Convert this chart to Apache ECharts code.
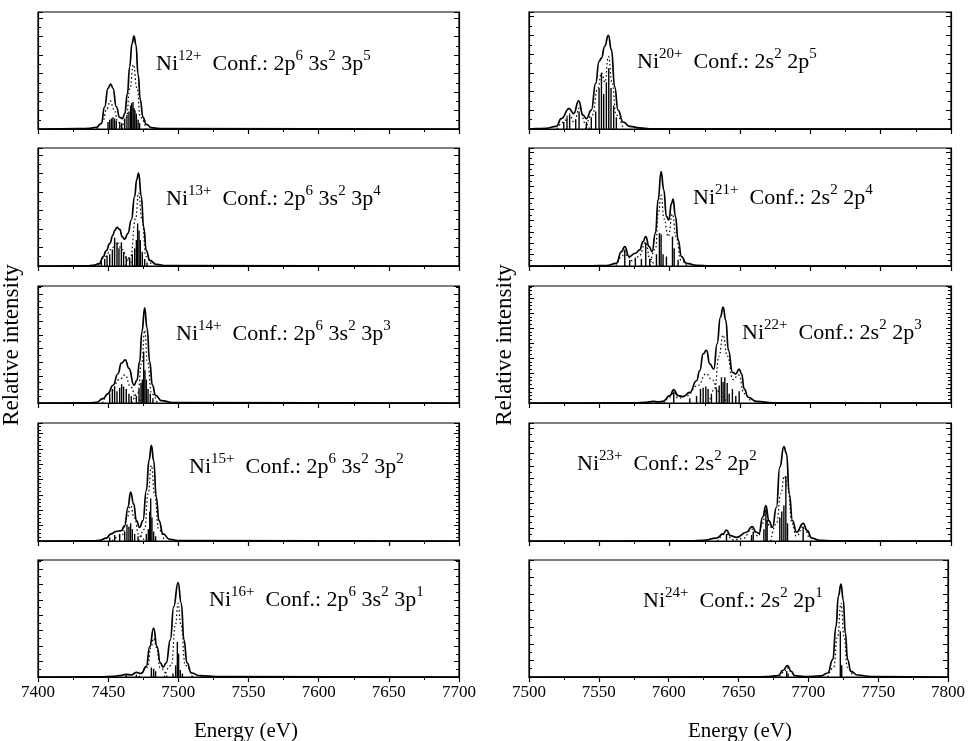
<!DOCTYPE html>
<html><head><meta charset="utf-8">
<script src="https://cdn.jsdelivr.net/npm/echarts@6/dist/echarts.min.js"></script>
<style>html,body{margin:0;padding:0;background:#fff}#c{width:968px;height:741px}</style>
</head><body><div id="c"></div>
<script>
// ---------- DATA ----------
const ions = ['12+','13+','14+','15+','16+','20+','21+','22+','23+','24+'];
const confs = ['2p^6 3s^2 3p^5','2p^6 3s^2 3p^4','2p^6 3s^2 3p^3','2p^6 3s^2 3p^2','2p^6 3s^2 3p^1',
               '2s^2 2p^5','2s^2 2p^4','2s^2 2p^3','2s^2 2p^2','2s^2 2p^1'];
const xTitle = 'Energy (eV)';
const yTitle = 'Relative intensity';
const leftRange = [7400, 7700];
const rightRange = [7500, 7800];

const env12 = [[7400,0],[7430,0.003],[7436.8,0.006],[7441.6,0.015],[7445.1,0.046],[7447.5,0.19],[7449.9,0.35],[7451.8,0.383],[7453.4,0.35],[7455.8,0.19],[7458.2,0.10],[7460.1,0.089],[7461.8,0.13],[7463.7,0.30],[7465.3,0.53],[7467.0,0.73],[7468.4,0.794],[7469.8,0.72],[7471.3,0.47],[7472.9,0.25],[7474.8,0.10],[7477.2,0.04],[7480.8,0.011],[7486.7,0.003],[7700,0]];
const env13 = [[7400,0],[7435,0.002],[7439.2,0.005],[7443.9,0.02],[7446.3,0.077],[7448.7,0.13],[7451.1,0.19],[7453.4,0.26],[7454.6,0.30],[7456.3,0.327],[7458.2,0.31],[7460.1,0.247],[7461.8,0.227],[7464.1,0.276],[7466.5,0.39],[7468.9,0.59],[7470.3,0.73],[7471.7,0.787],[7473.6,0.59],[7475.3,0.33],[7477.2,0.13],[7479.6,0.048],[7484.3,0.014],[7491.4,0.003],[7700,0]];
const env14 = [[7400,0],[7437,0.002],[7441.6,0.005],[7446.3,0.037],[7449.9,0.08],[7453.4,0.15],[7457.0,0.25],[7459.4,0.34],[7462.2,0.368],[7464.8,0.296],[7468.4,0.152],[7470.5,0.195],[7472.4,0.353],[7474.1,0.61],[7476.0,0.813],[7477.7,0.64],[7479.6,0.353],[7481.5,0.152],[7483.8,0.066],[7487.9,0.02],[7496.2,0.003],[7700,0]];
const env15 = [[7400,0],[7440,0.002],[7443.9,0.005],[7448.7,0.025],[7452,0.06],[7455.8,0.082],[7459.4,0.088],[7461.8,0.13],[7464.1,0.286],[7466.0,0.414],[7468.2,0.314],[7470.1,0.173],[7472.4,0.116],[7474.8,0.173],[7477.2,0.428],[7479.1,0.683],[7480.8,0.81],[7482.4,0.683],[7484.3,0.371],[7486.2,0.173],[7489.1,0.06],[7493.8,0.014],[7501,0.003],[7700,0]];
const env16 = [[7400,0],[7445,0.002],[7453.4,0.005],[7458,0.012],[7462.9,0.023],[7466.5,0.017],[7470.1,0.04],[7473.6,0.03],[7477.2,0.09],[7479.6,0.26],[7482.4,0.418],[7484.8,0.26],[7487.2,0.12],[7489.1,0.085],[7491.4,0.12],[7494.3,0.318],[7496.7,0.60],[7499.8,0.807],[7502.1,0.63],[7504.0,0.318],[7506.2,0.12],[7509.3,0.034],[7515.2,0.011],[7527.1,0.003],[7700,0]];
const env20 = [[7500,0],[7505,0.003],[7512.3,0.006],[7519.4,0.023],[7523.0,0.089],[7528.5,0.175],[7531.8,0.132],[7535.3,0.241],[7538.4,0.118],[7540.8,0.089],[7544.3,0.161],[7547.4,0.39],[7549.8,0.578],[7551.5,0.606],[7553.8,0.707],[7556.4,0.80],[7558.6,0.678],[7560.9,0.362],[7563.3,0.161],[7566.9,0.06],[7571.6,0.023],[7578.7,0.009],[7585.8,0.002],[7800,0]];
const env21 = [[7500,0],[7545,0.002],[7555.0,0.004],[7562.1,0.023],[7565.7,0.122],[7568.1,0.164],[7571.1,0.079],[7575.6,0.108],[7578.7,0.136],[7581.1,0.207],[7583.0,0.249],[7585.4,0.164],[7587.5,0.122],[7589.9,0.278],[7591.8,0.561],[7593.9,0.80],[7595.8,0.646],[7597.7,0.42],[7599.4,0.39],[7601.3,0.53],[7602.4,0.567],[7604.1,0.42],[7606.0,0.221],[7608.4,0.079],[7611.9,0.023],[7619.0,0.006],[7628.5,0.001],[7800,0]];
const env22 = [[7500,0],[7575,0.002],[7583.5,0.006],[7588.2,0.014],[7592,0.01],[7595.3,0.014],[7600.1,0.063],[7602.9,0.114],[7606.0,0.063],[7609.6,0.054],[7614.3,0.09],[7619.1,0.19],[7621.4,0.277],[7623.8,0.42],[7626.2,0.449],[7628.5,0.334],[7631.4,0.29],[7633.7,0.506],[7636.1,0.734],[7638.0,0.82],[7639.9,0.706],[7641.8,0.449],[7644.6,0.263],[7647.0,0.249],[7649.4,0.29],[7651.1,0.25],[7653.0,0.12],[7655.8,0.049],[7661.7,0.014],[7673.6,0.002],[7800,0]];
const env23 = [[7500,0],[7615,0.002],[7623.8,0.005],[7633.3,0.025],[7638.0,0.06],[7640.4,0.093],[7643.2,0.045],[7647.5,0.031],[7654.6,0.074],[7658.6,0.122],[7661.7,0.074],[7663.6,0.065],[7666.0,0.20],[7668.4,0.30],[7670.5,0.173],[7673.1,0.116],[7675.9,0.286],[7678.3,0.626],[7681.2,0.80],[7683.1,0.74],[7685.0,0.40],[7687.3,0.173],[7690.2,0.074],[7694.9,0.15],[7697.8,0.088],[7700.9,0.025],[7706.8,0.006],[7716.3,0.001],[7800,0]];
const env24 = [[7500,0],[7660,0.001],[7671.2,0.003],[7678.3,0.011],[7681.9,0.057],[7685.0,0.097],[7687.8,0.048],[7690.2,0.011],[7697.3,0.004],[7709.2,0.009],[7713.9,0.034],[7717.5,0.148],[7719.8,0.43],[7721.5,0.69],[7723.4,0.793],[7725.0,0.66],[7726.5,0.375],[7728.1,0.148],[7730.5,0.048],[7735.2,0.017],[7744.7,0.004],[7800,0]];

const dot12a = [[7442,0],[7446,0.06],[7449,0.17],[7451.5,0.24],[7454,0.17],[7457,0.06],[7460,0]];
const dot12b = [[7460,0],[7463,0.1],[7465.5,0.35],[7468,0.55],[7470.5,0.35],[7473,0.1],[7477,0]];
const dot13a = [[7443,0],[7448,0.08],[7452,0.14],[7456,0.2],[7460,0.14],[7464,0.05],[7468,0]];
const dot13b = [[7462,0],[7466,0.08],[7469.5,0.4],[7471.7,0.62],[7474,0.4],[7477,0.08],[7481,0]];
const dot14a = [[7446,0],[7452,0.1],[7458,0.2],[7462,0.24],[7466,0.14],[7470,0.04],[7474,0]];
const dot14b = [[7467,0],[7471,0.08],[7474,0.35],[7476,0.62],[7478,0.35],[7481,0.08],[7485,0]];
const dot15a = [[7453,0],[7460,0.05],[7463.5,0.2],[7466,0.3],[7468.5,0.2],[7472,0.05],[7476,0]];
const dot15b = [[7472,0],[7476,0.1],[7478.5,0.4],[7480.8,0.64],[7483,0.4],[7486,0.1],[7490,0]];
const dot16a = [[7472,0],[7478,0.08],[7480.5,0.25],[7482.4,0.33],[7484.5,0.25],[7487,0.08],[7492,0]];
const dot16b = [[7490,0],[7495,0.1],[7498,0.45],[7499.8,0.63],[7501.8,0.45],[7505,0.1],[7510,0]];
const dot20a = [[7520,0],[7525,0.06],[7528.5,0.13],[7532,0.06],[7536,0.18],[7540,0.05],[7543,0]];
const dot20b = [[7540,0],[7545,0.12],[7549,0.35],[7551.5,0.48],[7554,0.4],[7556.5,0.62],[7559,0.4],[7562,0.12],[7567,0]];
const dot21a = [[7562,0],[7566,0.08],[7568,0.12],[7570,0.08],[7574,0.04],[7578,0.08],[7583,0.2],[7586,0.06],[7589,0]];
const dot21b = [[7586,0],[7590,0.15],[7592,0.45],[7593.9,0.6],[7596,0.4],[7599,0.25],[7602,0.44],[7604.5,0.25],[7608,0.05],[7612,0]];
const dot22a = [[7596,0],[7600,0.05],[7603,0.09],[7606,0.04],[7612,0.06],[7620,0.15],[7626,0.25],[7630,0.2],[7635,0.1],[7640,0.02]];
const dot22b = [[7628,0],[7632,0.12],[7635,0.4],[7638,0.58],[7641,0.4],[7645,0.2],[7649,0.24],[7653,0.08],[7658,0]];
const dot23a = [[7634,0],[7640,0.06],[7645,0.01],[7652,0.02],[7658.6,0.1],[7663,0.04],[7666,0.15],[7668.4,0.26],[7671,0.12],[7674,0.1]];
const dot23b = [[7672,0],[7676,0.15],[7679,0.4],[7681.5,0.55],[7684,0.45],[7687,0.15],[7690,0.04],[7694.9,0.12],[7699,0.02]];
const dot24a = [[7680,0],[7683,0.05],[7685,0.08],[7687,0.05],[7690,0]];
const dot24b = [[7714,0],[7718,0.08],[7721,0.35],[7723.4,0.63],[7725.5,0.35],[7728,0.08],[7732,0]];

const stick12 = [[7449.9,0.06],[7451.1,0.08],[7452.3,0.09],[7453.4,0.10],[7454.6,0.09],[7455.8,0.07],[7458.2,0.06],[7459.6,0.05],[7461.8,0.09],[7463.4,0.12],[7464.8,0.15],[7466.0,0.2],[7466.7,0.22],[7467.7,0.23],[7468.4,0.18],[7469.1,0.16],[7470.1,0.13],[7471.3,0.08],[7472.4,0.05]];
const stick13 = [[7445.1,0.04],[7447.5,0.06],[7449.2,0.09],[7451.1,0.1],[7453.0,0.14],[7454.6,0.24],[7456.3,0.2],[7457.7,0.15],[7459.4,0.2],[7461.0,0.12],[7462.9,0.08],[7465.3,0.07],[7467.2,0.1],[7468.9,0.15],[7470.1,0.22],[7471.0,0.36],[7472.0,0.3],[7472.9,0.22],[7474.3,0.12],[7476.0,0.06],[7477.7,0.03]];
const stick14 = [[7451.1,0.08],[7453.0,0.12],[7454.6,0.14],[7456.3,0.10],[7458.2,0.13],[7459.6,0.16],[7461.0,0.14],[7462.9,0.12],[7464.8,0.08],[7466.5,0.06],[7470.1,0.06],[7472.0,0.12],[7473.4,0.17],[7474.3,0.2],[7475.3,0.44],[7476.2,0.28],[7477.2,0.2],[7478.4,0.12],[7480.0,0.08],[7481.9,0.04]];
const stick15 = [[7451.1,0.03],[7454.6,0.05],[7458.2,0.06],[7461.8,0.08],[7463.4,0.14],[7464.8,0.12],[7466.0,0.15],[7467.2,0.1],[7468.9,0.06],[7471.3,0.04],[7477.2,0.06],[7478.6,0.1],[7479.6,0.25],[7480.3,0.36],[7481.2,0.2],[7482.4,0.08],[7483.8,0.04]];
const stick16 = [[7462.9,0.02],[7470.1,0.02],[7480.8,0.08],[7482.4,0.07],[7483.8,0.05],[7496.2,0.03],[7498.1,0.1],[7499.3,0.3],[7500.2,0.2],[7501.4,0.06],[7502.9,0.03]];
const stick20 = [[7524.7,0.06],[7527.0,0.1],[7528.9,0.12],[7533.2,0.08],[7535.6,0.15],[7540.8,0.06],[7544.3,0.1],[7547.4,0.15],[7549.8,0.35],[7551.5,0.48],[7553.1,0.3],[7555.0,0.4],[7556.7,0.52],[7558.3,0.35],[7560.2,0.2],[7562.1,0.1]];
const stick21 = [[7568.1,0.14],[7571.6,0.05],[7575.6,0.07],[7579.9,0.06],[7583.0,0.2],[7585.8,0.06],[7590.6,0.1],[7592.7,0.28],[7593.9,0.27],[7595.3,0.1],[7597.7,0.08],[7602.0,0.25],[7603.2,0.15],[7606.0,0.05]];
const stick22 = [[7602.9,0.1],[7614.3,0.04],[7619.1,0.06],[7621.9,0.12],[7623.8,0.13],[7625.7,0.14],[7627.3,0.12],[7629.7,0.07],[7633.3,0.12],[7635.2,0.15],[7636.8,0.22],[7638.0,0.18],[7639.2,0.22],[7640.9,0.17],[7642.3,0.08],[7644.6,0.12],[7647.0,0.06],[7649.4,0.1]];
const stick23 = [[7640.4,0.06],[7658.2,0.05],[7659.4,0.08],[7667.0,0.1],[7668.4,0.27],[7669.3,0.18],[7678.3,0.2],[7679.7,0.25],[7681.2,0.3],[7682.6,0.55],[7683.8,0.15],[7694.9,0.12]];
const stick24 = [[7684.5,0.05],[7685.5,0.03],[7722.9,0.39],[7723.9,0.1]];

// ---------- assembly ----------
const envs = [env12,env13,env14,env15,env16,env20,env21,env22,env23,env24];
const dots = [[dot12a,dot12b],[dot13a,dot13b],[dot14a,dot14b],[dot15a,dot15b],[dot16a,dot16b],
              [dot20a,dot20b],[dot21a,dot21b],[dot22a,dot22b],[dot23a,dot23b],[dot24a,dot24b]];
const sticks = [stick12,stick13,stick14,stick15,stick16,stick20,stick21,stick22,stick23,stick24];

const FF = '"Liberation Serif", "DejaVu Serif", serif';
const rowTop = [12, 148, 286, 423, 560];
const rowH = [117, 118, 117, 118, 117];
const yInt = [0.1577, 0.157, 0.1164, 0.13, 0.132, 0.16, 0.096, 0.128, 0.106, 0.142];
const yMinor = [2, 2, 2, 4, 2, 2, 2, 4, 2, 2];
const labelPos = [[156,62],[166,197],[176,332],[189,465],[209,598],[637,60],[693,196],[742,331],[577,462],[643,599]];

const grids = [], xAxes = [], yAxes = [], series = [], graphics = [];
for (let i = 0; i < 10; i++) {
  const col = i < 5 ? 0 : 1, row = i % 5;
  const rng = col ? rightRange : leftRange;
  grids.push({left: col ? 529 : 38, top: rowTop[row], width: col ? 422 : 421, height: rowH[row],
    show: true, borderColor: '#000', borderWidth: 1.2, backgroundColor: 'transparent', containLabel: false});
  xAxes.push({type: 'value', gridIndex: i, min: rng[0], max: rng[1], interval: 50,
    axisLine: {show: true, onZero: false, lineStyle: {color: '#000', width: 1.2}},
    axisTick: {show: true, inside: false, length: 5, lineStyle: {color: '#000', width: 1.2}},
    minorTick: {show: true, splitNumber: 2, length: 3, lineStyle: {color: '#000', width: 1}},
    splitLine: {show: false}, minorSplitLine: {show: false},
    axisLabel: {show: row === 4, color: '#000', fontFamily: FF, fontSize: 17, margin: 7,
      formatter: v => String(v)}});
  ['left', 'right'].forEach(pos => {
    yAxes.push({type: 'value', gridIndex: i, position: pos, min: 0, max: 1, interval: yInt[i],
      axisLine: {show: true, onZero: false, lineStyle: {color: '#000', width: 1.2}},
      axisTick: {show: true, inside: true, length: 5, lineStyle: {color: '#000', width: 1}},
      minorTick: {show: true, splitNumber: yMinor[i], length: 3, lineStyle: {color: '#000', width: 1}},
      splitLine: {show: false}, minorSplitLine: {show: false}, axisLabel: {show: false}});
  });
  // sticks
  series.push({type: 'custom', xAxisIndex: i, yAxisIndex: 2 * i, data: sticks[i], clip: true,
    renderItem: (params, api) => {
      const p0 = api.coord([api.value(0), 0]);
      const p1 = api.coord([api.value(0), api.value(1)]);
      return {type: 'line', shape: {x1: p0[0], y1: p0[1], x2: p1[0], y2: p1[1]},
        style: {stroke: '#000', lineWidth: 1.4}};
    }});
  dots[i].forEach(d => series.push({type: 'line', xAxisIndex: i, yAxisIndex: 2 * i, data: d,
    smooth: 0.5, smoothMonotone: 'x', showSymbol: false, symbol: 'none',
    lineStyle: {color: '#000', width: 1.2, type: [1.5, 2.5]}}));
  series.push({type: 'line', xAxisIndex: i, yAxisIndex: 2 * i, data: envs[i],
    smooth: 0.5, smoothMonotone: 'x', showSymbol: false, symbol: 'none',
    lineStyle: {color: '#000', width: 1.7}});
  // label
  const parts = confs[i].split(' ').map(s => s.split('^'));
  let txt = '{m|Ni}{s|' + ions[i] + '}{m|  Conf.:}';
  parts.forEach(p => { txt += '{m| ' + p[0] + '}{s|' + p[1] + '}'; });
  graphics.push({type: 'text', x: labelPos[i][0], y: labelPos[i][1] - 13, silent: true,
    style: {text: txt, rich: {
      m: {fontFamily: FF, fontSize: 22, fill: '#000', lineHeight: 26, verticalAlign: 'bottom'},
      s: {fontFamily: FF, fontSize: 15, fill: '#000', lineHeight: 15, verticalAlign: 'top'}}}});
}
const titleFont = '21px ' + FF;
graphics.push({type: 'text', x: 246, y: 731, style: {text: xTitle, font: titleFont, fill: '#000', align: 'center', verticalAlign: 'middle'}});
graphics.push({type: 'text', x: 740, y: 731, style: {text: xTitle, font: titleFont, fill: '#000', align: 'center', verticalAlign: 'middle'}});
graphics.push({type: 'text', x: 12, y: 345, rotation: Math.PI / 2, style: {text: yTitle, font: '23px ' + FF, fill: '#000', align: 'center', verticalAlign: 'middle'}});
graphics.push({type: 'text', x: 505, y: 345, rotation: Math.PI / 2, style: {text: yTitle, font: '23px ' + FF, fill: '#000', align: 'center', verticalAlign: 'middle'}});

const chart = echarts.init(document.getElementById('c'), null, {renderer: 'canvas'});
chart.setOption({animation: false, backgroundColor: '#fff', grid: grids, xAxis: xAxes, yAxis: yAxes, series: series, graphic: graphics});
</script></body></html>
